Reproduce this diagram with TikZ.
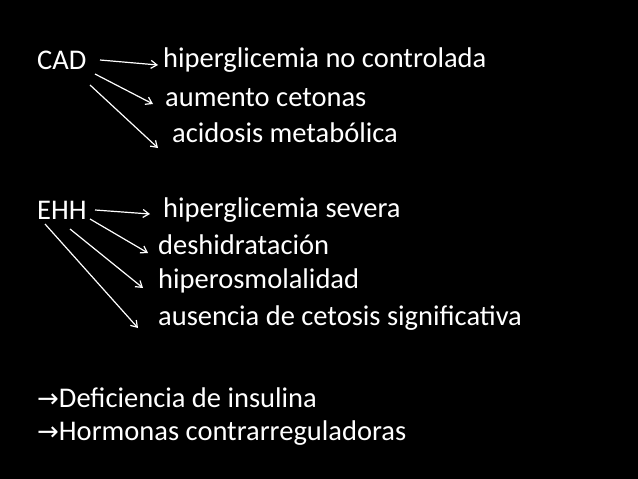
\documentclass[tikz,border=0pt]{standalone}
\usepackage{fontspec}
\setmainfont{Carlito}
\newfontfamily\symf{DejaVu Sans}
\begin{document}
\begin{tikzpicture}[x=1pt,y=-1pt,
  txt/.style={anchor=west,inner sep=0pt,text=white,font=\fontsize{28.5}{32}\selectfont},
  arr/.style={draw=white,line width=1.2pt,-{Straight Barb[length=6pt,width=8pt]}}]
\usetikzlibrary{arrows.meta}
\fill[black] (0,0) rectangle (638,479);
\useasboundingbox (0,0) rectangle (638,479);
\node[txt] (cad) at (37,60) {CAD};
\node[txt] (c1) at (163,60) {hiperglicemia no controlada};
\node[txt] (c2) at (165,98) {aumento cetonas};
\node[txt] (c3) at (172,133) {acidosis metabólica};
\node[txt] (ehh) at (37,210) {EHH};
\node[txt] (e1) at (163,210) {hiperglicemia severa};
\node[txt] (e2) at (158,245) {deshidratación};
\node[txt] (e3) at (158,281) {hiperosmolalidad};
\node[txt] (e4) at (158,318) {ausencia de cetosis significativa};
\node[txt] (d1) at (37,398) {{\symf\fontsize{26}{30}\selectfont →}Deficiencia de insulina};
\node[txt] (d2) at (37,433) {{\symf\fontsize{26}{30}\selectfont →}Hormonas contrarreguladoras};
\coordinate (a1s) at (100,60); \coordinate (a1e) at (158,65);
\coordinate (a2s) at (95,74); \coordinate (a2e) at (153,104);
\coordinate (a3s) at (90,85); \coordinate (a3e) at (158,148);
\coordinate (b1s) at (95,210); \coordinate (b1e) at (150,214);
\coordinate (b2s) at (90,219); \coordinate (b2e) at (148,253);
\coordinate (b3s) at (70,229); \coordinate (b3e) at (143,288);
\coordinate (b4s) at (45,224); \coordinate (b4e) at (138,328);
\foreach \p in {a1,a2,a3,b1,b2,b3,b4} \draw[arr] (\p s) -- (\p e);
\end{tikzpicture}
\end{document}
